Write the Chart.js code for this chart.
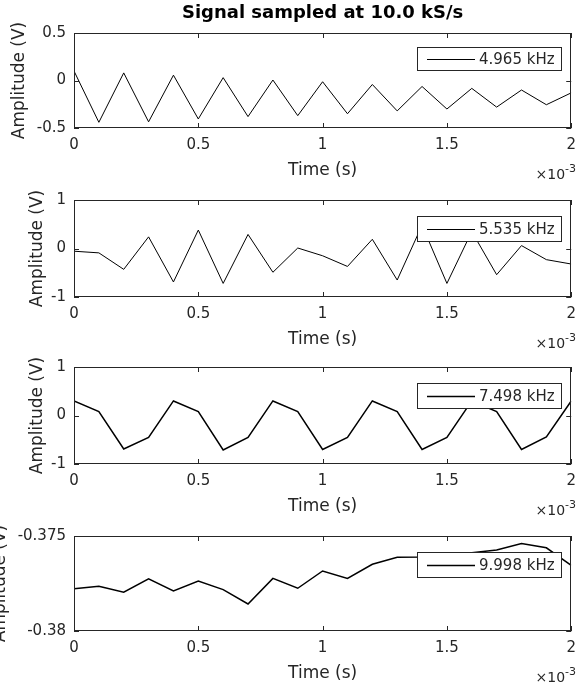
<!DOCTYPE html>
<html><head><meta charset="utf-8">
<script src="https://cdn.jsdelivr.net/npm/chart.js@4/dist/chart.umd.min.js"></script>
<style>
html,body{margin:0;padding:0;background:#fff;}
#wrap{position:relative;width:584px;height:693px;overflow:hidden;background:#fff;}
canvas{position:absolute;left:0;}
</style></head><body><div id="wrap"></div>
<script>
const times = [0,0.0001,0.0002,0.0003,0.0004,0.0005,0.0006,0.0007,0.0008,0.0009,0.001,0.0011,0.0012,0.0013,0.0014,0.0015,0.0016,0.0017,0.0018,0.0019,0.002];
const sig4965 = [0.10,-0.44,0.08,-0.435,0.056,-0.405,0.03,-0.38,0.005,-0.37,-0.013,-0.35,-0.042,-0.32,-0.063,-0.30,-0.083,-0.28,-0.10,-0.255,-0.13];
const sig5535 = [-0.056,-0.09,-0.43,0.24,-0.69,0.38,-0.72,0.29,-0.49,0.01,-0.15,-0.37,0.19,-0.65,0.48,-0.72,0.35,-0.54,0.06,-0.23,-0.32];
const sig7498 = [0.30,0.08,-0.69,-0.45,0.30,0.08,-0.71,-0.45,0.30,0.08,-0.70,-0.45,0.30,0.08,-0.70,-0.45,0.30,0.08,-0.70,-0.44,0.30];
const sig9998 = [-0.37777,-0.37765,-0.37796,-0.37726,-0.37789,-0.37737,-0.37782,-0.37858,-0.37723,-0.37775,-0.37684,-0.37723,-0.37649,-0.37612,-0.37610,-0.37600,-0.37588,-0.37574,-0.37540,-0.37562,-0.37655];
const seriesLabels = ['4.965 kHz','5.535 kHz','7.498 kHz','9.998 kHz'];
const xTicks = [0,0.0005,0.001,0.0015,0.002];
const xTickLabels = ['0','0.5','1','1.5','2'];
const yTicksA = [-0.5,0,0.5];
const yTickLabelsA = ['-0.5','0','0.5'];
const yTicksB = [-1,0,1];
const yTickLabelsB = ['-1','0','1'];
const yTicksC = [-0.38,-0.375];
const yTickLabelsC = ['-0.38','-0.375'];
const titleText = 'Signal sampled at 10.0 kS/s';
const xLabel = 'Time (s)';
const yLabel = 'Amplitude (V)';

const FONT = "'DejaVu Sans', sans-serif";
const AX = '#262626';
const panels = [
  {vals:sig4965, label:seriesLabels[0], yt:yTicksA, yl:yTickLabelsA, top:33, bottom:128, ylc:20, lw:1, lgOff:14, lgH:23, title:true},
  {vals:sig5535, label:seriesLabels[1], yt:yTicksB, yl:yTickLabelsB, top:200, bottom:297, ylc:38, lw:1, lgOff:16, lgH:25},
  {vals:sig7498, label:seriesLabels[2], yt:yTicksB, yl:yTickLabelsB, top:367, bottom:464, ylc:38, lw:1.5, lgOff:16, lgH:25},
  {vals:sig9998, label:seriesLabels[3], yt:yTicksC, yl:yTickLabelsC, top:536, bottom:631, ylc:1, lw:1.5, lgOff:16, lgH:25}
];
const PADTOP = 33;
const wrap = document.getElementById('wrap');

const boxPlugin = {
  id:'boxPlugin',
  afterDatasetsDraw(chart, args, opts){
    const ctx = chart.ctx, a = chart.chartArea, p = opts.panel;
    ctx.save();
    ctx.strokeStyle = AX; ctx.lineWidth = 1;
    ctx.strokeRect(Math.round(a.left)+0.5, Math.round(a.top)+0.5, Math.round(a.right-a.left)-1, Math.round(a.bottom-a.top)-1);
    const tl = 5;
    ctx.beginPath();
    xTicks.forEach(v=>{
      const x = Math.round(chart.scales.x.getPixelForValue(v))+0.5;
      ctx.moveTo(x, a.bottom); ctx.lineTo(x, a.bottom-tl);
      ctx.moveTo(x, a.top); ctx.lineTo(x, a.top+tl);
    });
    p.yt.forEach(v=>{
      const y = Math.round(chart.scales.y.getPixelForValue(v))+0.5;
      ctx.moveTo(a.left, y); ctx.lineTo(a.left+tl, y);
      ctx.moveTo(a.right, y); ctx.lineTo(a.right-tl, y);
    });
    ctx.stroke();
    // legend
    const lr = 561, ll = 417, lt = a.top + p.lgOff, lh = p.lgH;
    ctx.fillStyle = '#fff';
    ctx.fillRect(ll, lt, lr-ll, lh);
    ctx.strokeStyle = AX; ctx.lineWidth = 1;
    ctx.strokeRect(ll+0.5, Math.round(lt)+0.5, lr-ll, lh);
    const ly = Math.round(lt + lh/2) + 0.5;
    ctx.strokeStyle = '#000'; ctx.lineWidth = p.lw;
    ctx.beginPath(); ctx.moveTo(427, ly); ctx.lineTo(475, ly); ctx.stroke();
    ctx.fillStyle = AX; ctx.font = '15px ' + FONT;
    ctx.textAlign = 'left'; ctx.textBaseline = 'middle';
    ctx.fillText(chart.data.datasets[0].label, 479, ly+1);
    // exponent label
    ctx.textAlign = 'right'; ctx.textBaseline = 'middle';
    ctx.font = '11px ' + FONT;
    const supW = ctx.measureText('-3').width;
    ctx.fillText('-3', 576, a.bottom + 41);
    ctx.font = '14px ' + FONT;
    ctx.fillText('\u00d710', 576 - supW, a.bottom + 47);
    if (p.title){
      ctx.font = 'bold 18px ' + FONT;
      ctx.textAlign = 'center'; ctx.textBaseline = 'middle';
      ctx.fillStyle = '#000';
      ctx.fillText(titleText, (a.left+a.right)/2, a.top - 20);
    }
    ctx.restore();
  }
};

panels.forEach((p, i)=>{
  const ctop = p.top - PADTOP;
  const H = Math.min(185, 693 - ctop);
  const plotH = p.bottom - p.top;
  const cv = document.createElement('canvas');
  cv.width = 584; cv.height = H;
  cv.style.width = '584px'; cv.style.height = H + 'px';
  cv.style.top = ctop + 'px';
  wrap.appendChild(cv);
  const xAxisH = H - PADTOP - plotH;
  const xTitleCenter = PADTOP + plotH + 43;
  new Chart(cv, {
    type:'line',
    data:{datasets:[{label:p.label, data: times.map((t,k)=>({x:t, y:p.vals[k]})), borderColor:'#000', borderWidth:p.lw, pointRadius:0, tension:0, fill:false}]},
    options:{
      responsive:false, animation:false, devicePixelRatio:1,
      layout:{padding:{left:0, right:8, top:PADTOP, bottom:0}},
      plugins:{legend:{display:false}, tooltip:{enabled:false}, title:{display:false}, boxPlugin:{panel:p}},
      events:[],
      scales:{
        x:{type:'linear', min:0, max:0.002,
          grid:{display:false, drawTicks:false}, border:{display:false},
          afterBuildTicks:s=>{s.ticks = xTicks.map(v=>({value:v}));},
          ticks:{autoSkip:false, maxRotation:0, padding:8, color:AX, font:{family:FONT, size:15},
            callback:(v,idx)=>xTickLabels[idx]},
          title:{display:true, text:xLabel, color:AX, font:{family:FONT, size:17}, padding:{top:0, bottom: H - xTitleCenter - 10.2}},
          afterFit:s=>{s.height = xAxisH;}
        },
        y:{type:'linear', min:p.yt[0], max:p.yt[p.yt.length-1],
          grid:{display:false, drawTicks:false}, border:{display:false},
          afterBuildTicks:s=>{s.ticks = p.yt.map(v=>({value:v}));},
          ticks:{autoSkip:false, padding:8, color:AX, font:{family:FONT, size:15},
            callback:(v,idx)=>p.yl[idx]},
          title:{display:true, text:yLabel, color:AX, font:{family:FONT, size:17}, padding:{top:p.ylc - 10.2, bottom:0}},
          afterFit:s=>{s.width = 74;}
        }
      }
    },
    plugins:[boxPlugin]
  });
});
</script></body></html>
